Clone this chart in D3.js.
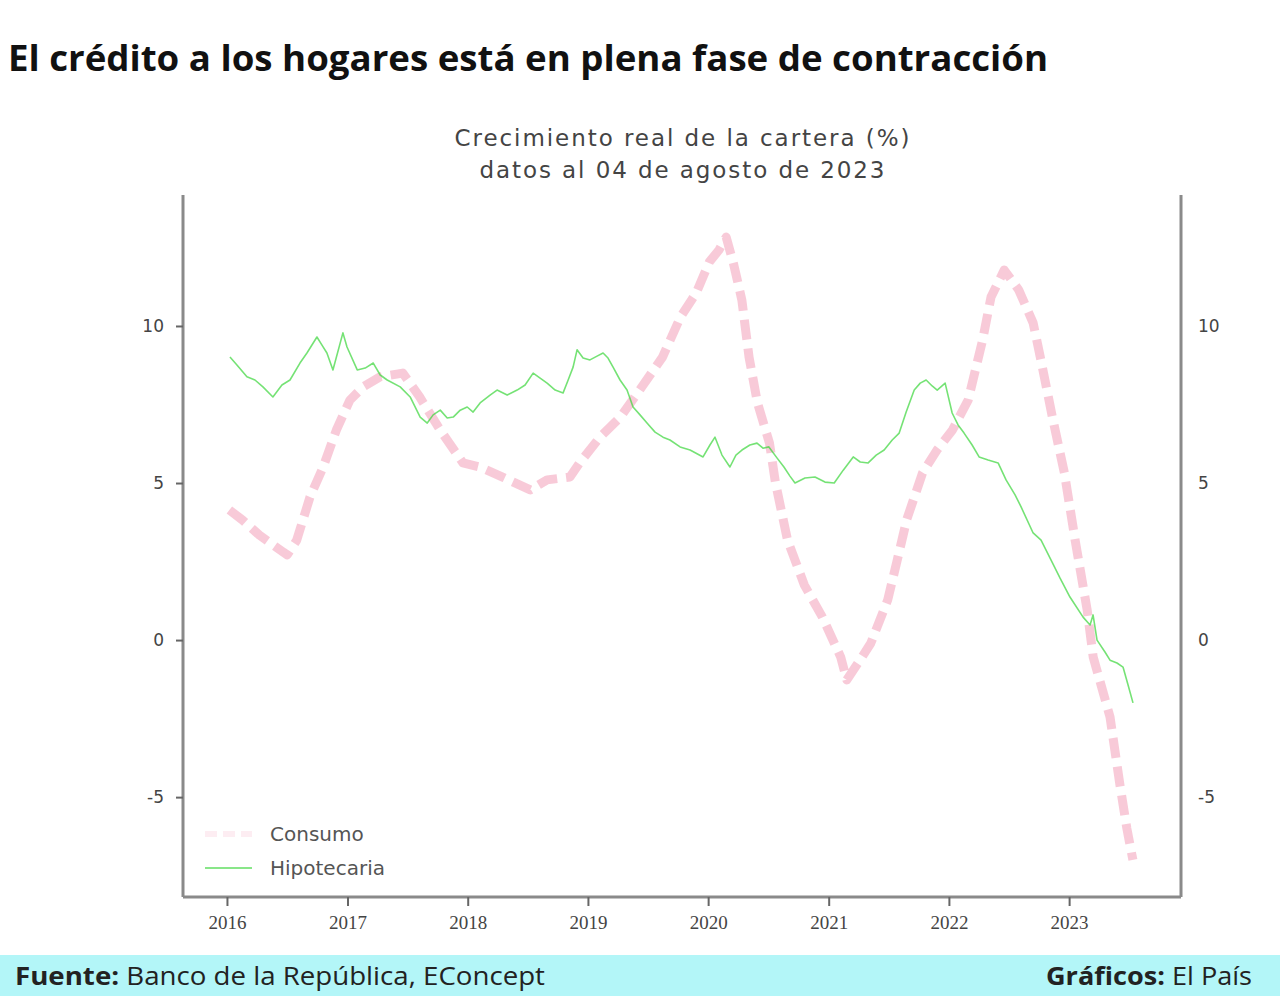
<!DOCTYPE html>
<html><head><meta charset="utf-8">
<script src="https://cdn.jsdelivr.net/npm/d3@7"></script>
<style>
html,body{margin:0;padding:0;background:#fff;}
svg{display:block;}
</style></head>
<body>
<svg id="c" width="1280" height="996"></svg>
<script>
// ---- data ----
const titleText = "El crédito a los hogares está en plena fase de contracción";
const subtitleLines = ["Crecimiento real de la cartera (%)", "datos al 04 de agosto de 2023"];
const xTickYears = [2016, 2017, 2018, 2019, 2020, 2021, 2022, 2023];
const yTicksLeft = [10, 5, 0, -5];
const yTicksRight = [10, 5, 0, -5];
const seriesNames = ["Consumo", "Hipotecaria"];

const consumoYears = [2016.02,2016.13,2016.27,2016.50,2016.58,2016.69,2016.80,2016.91,2017.02,2017.13,2017.27,2017.46,2017.60,2017.77,2017.96,2018.10,2018.29,2018.52,2018.66,2018.85,2018.93,2019.10,2019.27,2019.43,2019.62,2019.77,2019.90,2020.01,2020.09,2020.15,2020.21,2020.28,2020.34,2020.41,2020.51,2020.56,2020.66,2020.80,2020.95,2021.10,2021.15,2021.26,2021.35,2021.49,2021.57,2021.65,2021.78,2021.90,2022.03,2022.16,2022.28,2022.35,2022.46,2022.58,2022.70,2022.77,2022.86,2022.96,2023.05,2023.15,2023.20,2023.34,2023.42,2023.48,2023.53];
const consumoValues = [4.14,3.82,3.34,2.71,3.18,4.55,5.51,6.69,7.64,8.06,8.38,8.50,7.74,6.69,5.64,5.51,5.19,4.78,5.10,5.19,5.64,6.46,7.10,7.96,9.01,10.29,11.05,12.04,12.42,12.83,12.0,10.83,9.01,7.55,6.27,5.0,3.18,1.75,0.73,-0.54,-1.27,-0.64,-0.10,1.27,2.55,3.85,5.32,6.05,6.69,7.64,9.55,10.92,11.78,11.15,10.10,8.82,7.10,5.32,3.18,0.96,-0.54,-2.45,-4.55,-6.0,-7.0];

const hipoX = [230,237,247,255,263,273,282,290,300,307,317,322,327,333,343,347,357,365,373,380,387,400,410,420,427,433,440,447,453,460,467,473,480,490,497,507,517,525,533,540,547,555,563,568,573,577,583,590,597,603,608,613,620,627,633,640,647,655,663,670,680,690,703,710,715,722,730,736,742,750,757,763,769,777,784,790,795,805,815,825,834,843,853,860,868,876,884,892,899,906,914,920,926,932,937,945,952,958,964,972,979,988,998,1006,1015,1021,1033,1041,1050,1060,1070,1083,1090,1093,1097,1105,1110,1117,1123,1128,1133];
const hipoValues = [9.01,8.76,8.38,8.28,8.06,7.74,8.12,8.28,8.82,9.14,9.65,9.39,9.14,8.60,9.78,9.33,8.60,8.66,8.82,8.44,8.28,8.06,7.74,7.10,6.91,7.17,7.32,7.07,7.10,7.32,7.42,7.26,7.55,7.80,7.96,7.80,7.96,8.12,8.50,8.34,8.18,7.96,7.87,8.28,8.69,9.24,8.98,8.92,9.04,9.14,8.98,8.69,8.28,7.96,7.42,7.17,6.91,6.62,6.46,6.37,6.15,6.05,5.83,6.21,6.46,5.89,5.51,5.89,6.05,6.21,6.27,6.11,6.15,5.80,5.51,5.22,5.0,5.16,5.19,5.03,5.0,5.41,5.83,5.67,5.64,5.89,6.05,6.37,6.59,7.26,7.96,8.18,8.28,8.09,7.96,8.18,7.23,6.85,6.59,6.21,5.83,5.73,5.64,5.10,4.62,4.24,3.41,3.18,2.61,1.97,1.37,0.73,0.48,0.80,0.0,-0.38,-0.64,-0.73,-0.86,-1.43,-2.0];
// hipoteca sample positions given as decimal years
const hipoYears = hipoX.map(x => +(2016 + (x - 227) / 120.3).toFixed(3));

// ---- helpers ----
const toDate = y => new Date(Date.UTC(Math.floor(y), 0, 1) + (y - Math.floor(y)) * 365.25 * 864e5);

const svg = d3.select("#c");
const M = {left: 183, right: 1181, top: 195, bottom: 897};

const x = d3.scaleUtc().domain([toDate(2015.634), toDate(2023.93)]).range([M.left, M.right]);
const yL = d3.scaleLinear().domain([-8.18, 14.17]).range([M.bottom, M.top]);
const yR = d3.scaleLinear().domain([-8.18, 14.17]).range([M.bottom, M.top]);

// Title
svg.append("text").attr("x", 8).attr("y", 71)
  .attr("font-family", "Open Sans, sans-serif").attr("font-weight", 700)
  .attr("font-size", 35).attr("fill", "#111")
  .attr("textLength", 1040).attr("lengthAdjust", "spacingAndGlyphs")
  .text(titleText);

// Subtitle
const subLens = [455, 405];
svg.selectAll("text.sub").data(subtitleLines).join("text")
  .attr("class", "sub")
  .attr("x", 682).attr("y", (d, i) => 146 + i * 32)
  .attr("text-anchor", "middle")
  .attr("font-family", "DejaVu Sans, sans-serif").attr("font-size", 23)
  .attr("textLength", (d, i) => subLens[i]).attr("lengthAdjust", "spacing")
  .attr("fill", "#444").text(d => d);

// Series
const lineC = d3.line().x((d) => x(toDate(d[0]))).y(d => yL(d[1]));
const lineH = d3.line().x((d) => x(toDate(d[0]))).y(d => yR(d[1]));

const cData = consumoYears.map((yv, i) => [yv, consumoValues[i]]);
const hData = hipoYears.map((yv, i) => [yv, hipoValues[i]]);

svg.append("path").datum(cData).attr("d", lineC)
  .attr("fill", "none").attr("stroke", "#e8517f").attr("stroke-opacity", 0.3)
  .attr("stroke-width", 9).attr("stroke-dasharray", "20,9")
  .attr("stroke-linejoin", "round");

svg.append("path").datum(hData).attr("d", lineH)
  .attr("fill", "none").attr("stroke", "#3ad63a").attr("stroke-opacity", 0.7)
  .attr("stroke-width", 1.6).attr("stroke-linejoin", "round");

// Axes
const axisColor = "#8a8a8a";
const fmt = d => String(d);
const gL = svg.append("g").attr("transform", `translate(${M.left},0)`)
  .call(d3.axisLeft(yL).tickValues(yTicksLeft).tickSize(7).tickPadding(12).tickFormat(fmt));
const gR = svg.append("g").attr("transform", `translate(${M.right},0)`)
  .call(d3.axisRight(yR).tickValues(yTicksRight).tickSize(0).tickPadding(17).tickFormat(fmt));
const gB = svg.append("g").attr("transform", `translate(0,${M.bottom})`)
  .call(d3.axisBottom(x).tickValues(xTickYears.map(y => toDate(y))).tickSize(9).tickPadding(10)
    .tickFormat((d, i) => String(xTickYears[i])));

[gL, gR, gB].forEach(g => {
  g.select(".domain").attr("stroke", axisColor).attr("stroke-width", 3);
  g.selectAll(".tick line").attr("stroke", "#666").attr("stroke-width", 2);
  g.selectAll(".tick text").attr("font-family", "DejaVu Sans, sans-serif")
    .attr("font-size", 17).attr("fill", "#444");
});
gL.select(".domain").attr("d", `M0,${M.top}V${M.bottom}`);
gR.select(".domain").attr("d", `M0,${M.top}V${M.bottom}`);
gB.select(".domain").attr("d", `M${M.left},0H${M.right}`);
gB.selectAll(".tick text").attr("font-family", "Liberation Serif, serif").attr("font-size", 19);

// Legend
const lg = svg.append("g");
lg.append("line").attr("x1", 205).attr("x2", 252).attr("y1", 834).attr("y2", 834)
  .attr("stroke", "#e8517f").attr("stroke-opacity", 0.1).attr("stroke-width", 6).attr("stroke-dasharray", "12,6");
lg.append("line").attr("x1", 205).attr("x2", 252).attr("y1", 868).attr("y2", 868)
  .attr("stroke", "#3ad63a").attr("stroke-opacity", 0.6).attr("stroke-width", 2);
lg.selectAll("text").data(seriesNames).join("text")
  .attr("x", 270).attr("y", (d, i) => 841 + i * 34)
  .attr("font-family", "DejaVu Sans, sans-serif").attr("font-size", 20)
  .attr("fill", "#555").text(d => d);

// Footer
svg.append("rect").attr("x", 0).attr("y", 955).attr("width", 1280).attr("height", 41).attr("fill", "#b3f6f8");
const f1 = svg.append("text").attr("x", 15).attr("y", 985)
  .attr("font-family", "Open Sans, sans-serif").attr("font-size", 25).attr("fill", "#222")
  .attr("textLength", 530).attr("lengthAdjust", "spacingAndGlyphs");
f1.append("tspan").attr("font-weight", 700).text("Fuente:");
f1.append("tspan").text(" Banco de la República, EConcept");
const f2 = svg.append("text").attr("x", 1252).attr("y", 985).attr("text-anchor", "end")
  .attr("font-family", "Open Sans, sans-serif").attr("font-size", 25).attr("fill", "#222")
  .attr("textLength", 206).attr("lengthAdjust", "spacingAndGlyphs");
f2.append("tspan").attr("font-weight", 700).text("Gráficos:");
f2.append("tspan").text(" El País");
</script>
</body></html>
